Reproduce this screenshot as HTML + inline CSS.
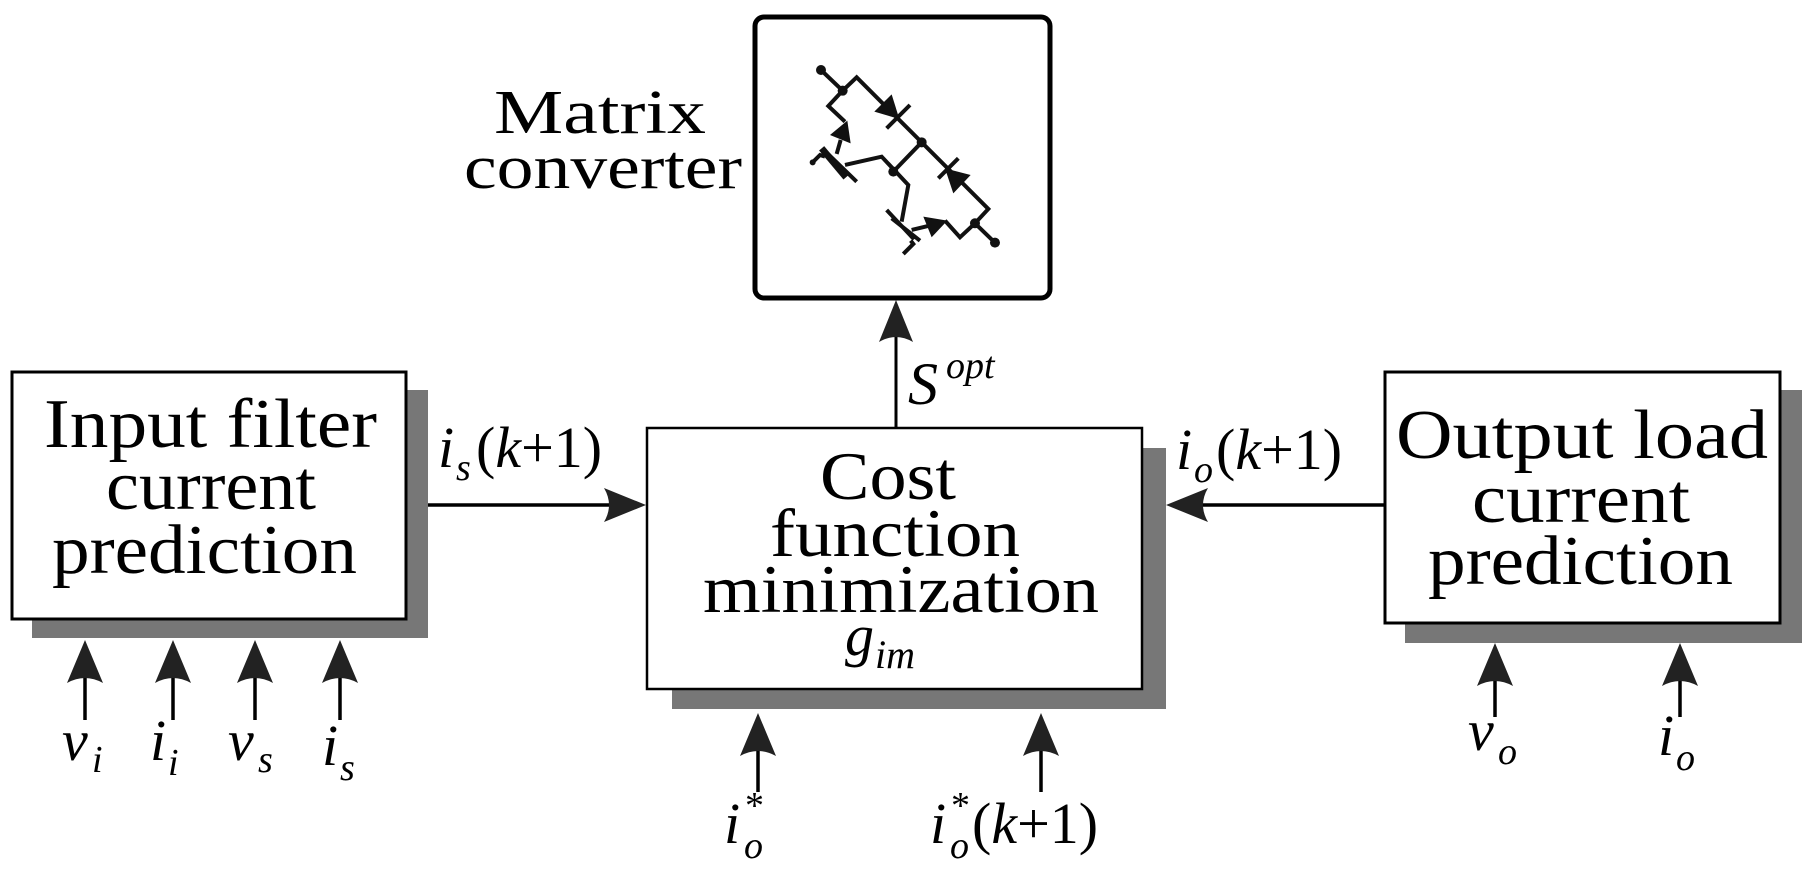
<!DOCTYPE html>
<html><head><meta charset="utf-8"><style>
html,body{margin:0;padding:0;background:#fff;}
svg{display:block;}
text{font-family:"Liberation Serif",serif;fill:#000;}
.it{font-style:italic;}
</style></head><body>
<svg width="1819" height="880" viewBox="0 0 1819 880" xmlns="http://www.w3.org/2000/svg">
<defs>
<marker id="ah" markerWidth="10" markerHeight="10" refX="10" refY="5" orient="auto" markerUnits="userSpaceOnUse" viewBox="0 0 10 10">
</marker>
</defs>
<!-- shadows -->
<rect x="32" y="390" width="396" height="248" fill="#777"/>
<rect x="672" y="448" width="494" height="261" fill="#777"/>
<rect x="1405" y="390" width="397" height="253" fill="#777"/>
<!-- boxes -->
<rect x="12" y="372" width="394" height="247" fill="#fff" stroke="#000" stroke-width="3"/>
<rect x="647" y="428" width="495" height="261" fill="#fff" stroke="#000" stroke-width="2.5"/>
<rect x="1385" y="372" width="395" height="251" fill="#fff" stroke="#000" stroke-width="3"/>
<rect x="755" y="17" width="295" height="281" rx="9" fill="#fff" stroke="#000" stroke-width="5"/>

<!-- left box text -->
<text x="44" y="447" font-size="70" textLength="333" lengthAdjust="spacingAndGlyphs">Input filter</text>
<text x="106" y="509" font-size="70" textLength="210" lengthAdjust="spacingAndGlyphs">current</text>
<text x="52" y="573" font-size="70" textLength="305" lengthAdjust="spacingAndGlyphs">prediction</text>
<!-- center text -->
<text x="820" y="499" font-size="68" textLength="136" lengthAdjust="spacingAndGlyphs">Cost</text>
<text x="770" y="556" font-size="68" textLength="250" lengthAdjust="spacingAndGlyphs">function</text>
<text x="703" y="612" font-size="68" textLength="396" lengthAdjust="spacingAndGlyphs">minimization</text>
<text x="845" y="655" font-size="58" class="it">g</text>
<text x="875" y="668" font-size="40" class="it">im</text>
<!-- right text -->
<text x="1396" y="458" font-size="70" textLength="372" lengthAdjust="spacingAndGlyphs">Output load</text>
<text x="1472" y="522" font-size="70" textLength="218" lengthAdjust="spacingAndGlyphs">current</text>
<text x="1428" y="584" font-size="70" textLength="305" lengthAdjust="spacingAndGlyphs">prediction</text>
<!-- matrix label -->
<text x="494" y="133" font-size="62" textLength="212" lengthAdjust="spacingAndGlyphs">Matrix</text>
<text x="464" y="188" font-size="62" textLength="278" lengthAdjust="spacingAndGlyphs">converter</text>

<!-- horizontal arrows -->
<line x1="428" y1="505" x2="612" y2="505" stroke="#000" stroke-width="3.5"/>
<path d="M646,505 L604,488 Q614,505 604,522 Z" fill="#222"/>
<line x1="1385" y1="505" x2="1200" y2="505" stroke="#000" stroke-width="3.5"/>
<path d="M1166,505 L1208,488 Q1198,505 1208,522 Z" fill="#222"/>
<!-- Sopt -->
<line x1="896" y1="427" x2="896" y2="330" stroke="#000" stroke-width="3"/>
<path d="M896,300 L879,342 Q896,332 913,342 Z" fill="#222"/>
<text x="908" y="404" font-size="60" class="it">S</text>
<text x="946" y="378" font-size="38" class="it">opt</text>
<!-- labels -->
<text x="438" y="467" font-size="58" class="it">i</text>
<text x="456" y="480" font-size="38" class="it">s</text>
<text x="476" y="467" font-size="58">(<tspan class="it">k</tspan>+1)</text>
<text x="1176" y="469" font-size="58" class="it">i</text>
<text x="1194" y="482" font-size="38" class="it">o</text>
<text x="1216" y="469" font-size="58">(<tspan class="it">k</tspan>+1)</text>

<!-- vertical input arrows -->
<g stroke="#000" stroke-width="3.5">
<line x1="85" y1="720" x2="85" y2="670"/>
<line x1="173" y1="720" x2="173" y2="670"/>
<line x1="255" y1="720" x2="255" y2="670"/>
<line x1="340" y1="720" x2="340" y2="670"/>
<line x1="758" y1="792" x2="758" y2="745"/>
<line x1="1041" y1="792" x2="1041" y2="745"/>
<line x1="1495" y1="717" x2="1495" y2="673"/>
<line x1="1680" y1="717" x2="1680" y2="673"/>
</g>
<g fill="#222">
<path d="M85,640 L67,683 Q85,673 103,683 Z"/>
<path d="M173,640 L155,683 Q173,673 191,683 Z"/>
<path d="M255,640 L237,683 Q255,673 273,683 Z"/>
<path d="M340,640 L322,683 Q340,673 358,683 Z"/>
<path d="M758,713 L740,756 Q758,746 776,756 Z"/>
<path d="M1041,713 L1023,756 Q1041,746 1059,756 Z"/>
<path d="M1495,643 L1477,686 Q1495,676 1513,686 Z"/>
<path d="M1680,643 L1662,686 Q1680,676 1698,686 Z"/>
</g>
<text x="62" y="760" font-size="58" class="it">v</text><text x="92" y="772" font-size="38" class="it">i</text>
<text x="150" y="760" font-size="58" class="it">i</text><text x="168" y="775" font-size="38" class="it">i</text>
<text x="228" y="760" font-size="58" class="it">v</text><text x="258" y="772" font-size="38" class="it">s</text>
<text x="322" y="765" font-size="58" class="it">i</text><text x="340" y="780" font-size="38" class="it">s</text>
<text x="724" y="843" font-size="58" class="it">i</text><text x="745" y="818" font-size="38">*</text><text x="744" y="858" font-size="38" class="it">o</text>
<text x="930" y="843" font-size="58" class="it">i</text><text x="951" y="818" font-size="38">*</text><text x="950" y="858" font-size="38" class="it">o</text>
<text x="972" y="843" font-size="58">(<tspan class="it">k</tspan>+1)</text>
<text x="1468" y="750" font-size="58" class="it">v</text><text x="1498" y="764" font-size="38" class="it">o</text>
<text x="1658" y="755" font-size="58" class="it">i</text><text x="1676" y="770" font-size="38" class="it">o</text>

<!-- circuit -->
<g transform="translate(740,0) scale(0.3333)" stroke="#111" stroke-width="12" fill="none" stroke-linejoin="miter">
<polyline points="243,210 308,272"/>
<polyline points="308,272 350,232 745,627 705,670 765,728"/>
<polyline points="308,272 265,318 315,365"/>
<line x1="290" y1="462" x2="302" y2="420"/>
<line x1="245" y1="445" x2="318" y2="532" stroke-width="20"/>
<line x1="262" y1="460" x2="350" y2="545"/>
<polyline points="218,487 240,465 255,470"/>
<polyline points="315,495 425,470 505,555 485,665"/>
<line x1="460" y1="515" x2="545" y2="427"/>
<line x1="440" y1="630" x2="522" y2="718"/>
<line x1="455" y1="655" x2="540" y2="722"/>
<polyline points="490,762 520,732 512,722"/>
<line x1="515" y1="690" x2="565" y2="678"/>
<polyline points="615,662 660,712 705,670"/>
<line x1="440" y1="385" x2="510" y2="315"/>
<line x1="595" y1="535" x2="655" y2="475"/>
</g>
<g transform="translate(740,0) scale(0.3333)" fill="#111">
<circle cx="243" cy="210" r="15"/>
<circle cx="308" cy="272" r="15"/>
<circle cx="545" cy="427" r="15"/>
<circle cx="460" cy="515" r="15"/>
<circle cx="705" cy="670" r="15"/>
<circle cx="765" cy="728" r="15"/>
<circle cx="218" cy="487" r="9"/>
<polygon points="403,335 455,283 478,357"/>
<polygon points="615,505 692,525 640,580"/>
<polygon points="270,405 322,362 332,430"/>
<polygon points="550,650 622,662 575,712"/>
</g>
</svg>
</body></html>
